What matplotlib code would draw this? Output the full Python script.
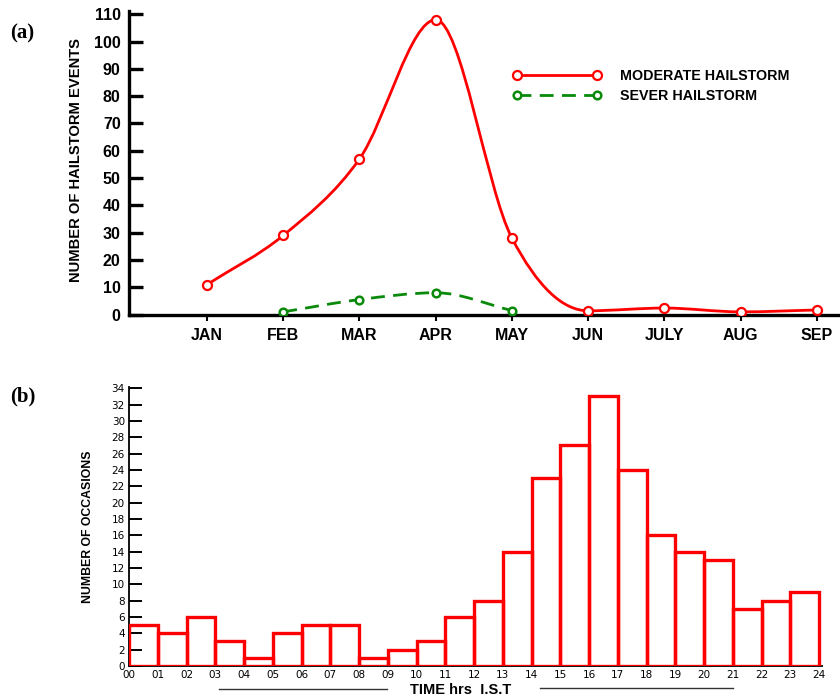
import numpy as np
import matplotlib
matplotlib.use("Agg")
import matplotlib.pyplot as plt
from matplotlib.path import Path
from matplotlib.patches import PathPatch
from matplotlib.lines import Line2D

# ---------------- data ----------------
months = ["JAN", "FEB", "MAR", "APR", "MAY", "JUN", "JULY", "AUG", "SEP"]
moderate = [11, 29, 57, 108, 28, 1.4, 2.4, 1, 1.7]
severe_months = ["FEB", "MAR", "APR", "MAY"]
severe = [1, 5.5, 8, 1.5]
y_ticks_a = [0, 10, 20, 30, 40, 50, 60, 70, 80, 90, 100, 110]

hours = list(range(24))
hour_labels = ["00", "01", "02", "03", "04", "05", "06", "07", "08", "09", "10", "11",
               "12", "13", "14", "15", "16", "17", "18", "19", "20", "21", "22", "23", "24"]
occasions = [5, 4, 6, 3, 1, 4, 5, 5, 1, 2, 3, 6, 8, 14, 23, 27, 33, 24, 16, 14, 13, 7, 8, 9]
y_ticks_b = list(range(0, 35, 2))

NARROW = ["Liberation Sans Narrow", "Liberation Sans", "DejaVu Sans"]
RED = "#ff0000"
GREEN = "#0a8a0a"

W, H = 840, 698
fig = plt.figure(figsize=(W / 100, H / 100), dpi=100)


def fx(px):
    return px / W


def fy(py):
    return 1 - py / H


def smooth_path(xs, ys):
    """Clamped Catmull-Rom style cubic curve through the points, as Bezier path."""
    xs = np.asarray(xs, float)
    ys = np.asarray(ys, float)
    n = len(xs)
    d = np.diff(ys) / np.diff(xs)
    m = np.zeros(n)
    m[0], m[-1] = d[0], d[-1]
    for k in range(1, n - 1):
        if d[k - 1] * d[k] > 0:
            m[k] = 0.5 * (d[k - 1] + d[k])
    verts = [(xs[0], ys[0])]
    codes = [Path.MOVETO]
    for i in range(n - 1):
        h = xs[i + 1] - xs[i]
        verts += [(xs[i] + h / 3, ys[i] + m[i] * h / 3),
                  (xs[i + 1] - h / 3, ys[i + 1] - m[i + 1] * h / 3),
                  (xs[i + 1], ys[i + 1])]
        codes += [Path.CURVE4] * 3
    return Path(verts, codes)


# ---------------- panel (a) ----------------
axa = fig.add_axes([fx(129), fy(314.6), fx(839) - fx(129), fy(11) - fy(314.6)])
xm = np.arange(len(months))
xs_sev = [months.index(m) for m in severe_months]

axa.add_patch(PathPatch(smooth_path(xm, moderate), fill=False, edgecolor=RED, lw=2.0,
                        zorder=3))
axa.add_patch(PathPatch(smooth_path(xs_sev, severe), fill=False, edgecolor=GREEN, lw=2.0,
                        linestyle=(0, (5, 3)), zorder=3))
axa.plot(xm, moderate, linestyle="none", marker="o", ms=6.5, mfc="white", mec=RED,
         mew=1.6, zorder=4)
axa.plot(xs_sev, severe, linestyle="none", marker="o", ms=5.5, mfc="white", mec=GREEN,
         mew=1.8, zorder=4)

axa.set_xlim(-1.023, 8.29)
axa.set_ylim(0, 111.2)
axa.set_xticks(xm)
axa.set_xticklabels(months)
axa.set_yticks(y_ticks_a)
for s in ["top", "right"]:
    axa.spines[s].set_visible(False)
for s in ["left", "bottom"]:
    axa.spines[s].set_linewidth(2.4)
axa.tick_params(axis="y", direction="in", length=10, width=2.4, pad=6)
axa.tick_params(axis="x", direction="out", length=4, width=1.5, pad=6)
for lab in axa.get_xticklabels() + axa.get_yticklabels():
    lab.set_family(NARROW)
    lab.set_fontweight("bold")
    lab.set_fontsize(11.5)
axa.set_ylabel("NUMBER OF HAILSTORM EVENTS", family=NARROW, fontweight="bold",
               fontsize=10.6)
axa.yaxis.set_label_coords(fx(83), fy(160.5), transform=fig.transFigure)

leg_handles = [
    Line2D([], [], color=RED, lw=2.0, marker="o", ms=6.5, mfc="white", mec=RED, mew=1.6),
    Line2D([], [], color=GREEN, lw=2.0, linestyle=(0, (5, 3)), marker="o", ms=5.5,
           mfc="white", mec=GREEN, mew=1.8),
]
axa.legend(leg_handles, ["MODERATE HAILSTORM", "SEVER HAILSTORM"], numpoints=2,
           loc="upper left", bbox_to_anchor=(fx(513), fy(69)),
           bbox_transform=fig.transFigure, frameon=False, borderpad=0, borderaxespad=0,
           handlelength=6.2, handletextpad=1.3, labelspacing=0.45,
           prop={"family": NARROW, "weight": "bold", "size": 10.3})

fig.text(fx(10), fy(33), "(a)", family=["Liberation Serif", "DejaVu Serif"],
         fontweight="bold", fontsize=15, va="center", ha="left")

# ---------------- panel (b) ----------------
axb = fig.add_axes([fx(129), fy(666), fx(822) - fx(129), fy(387) - fy(666)])
axb.bar(hours, occasions, width=1.0, align="edge", fill=False, edgecolor=RED, lw=2.4,
        zorder=3)
axb.set_xlim(0, 24.1)
axb.set_ylim(0, 34.15)
axb.set_xticks(range(25))
axb.set_xticklabels(hour_labels)
axb.set_yticks(y_ticks_b)
for s in ["top", "right"]:
    axb.spines[s].set_visible(False)
for s in ["left", "bottom"]:
    axb.spines[s].set_linewidth(1.3)
axb.tick_params(axis="y", direction="in", length=9, width=1.4, pad=3, labelsize=7.5)
axb.tick_params(axis="x", direction="out", length=0, pad=3, labelsize=7.5)
for lab in axb.get_xticklabels() + axb.get_yticklabels():
    lab.set_family(["DejaVu Sans"])
axb.set_ylabel("NUMBER OF OCCASIONS", family=NARROW, fontweight="bold", fontsize=8.8)
axb.yaxis.set_label_coords(fx(94), fy(526.5), transform=fig.transFigure)

fig.text(fx(461), fy(690), "TIME hrs  I.S.T", family=NARROW, fontweight="bold",
         fontsize=10.5, ha="center", va="center")
fig.add_artist(Line2D([fx(219), fx(387)], [fy(689), fy(689)], color="#333333", lw=1.0))
fig.add_artist(Line2D([fx(540), fx(733)], [fy(688), fy(688)], color="#333333", lw=1.0))

fig.text(fx(10), fy(396), "(b)", family=["Liberation Serif", "DejaVu Serif"],
         fontweight="bold", fontsize=15, va="center", ha="left")

fig.savefig("out.png", dpi=100, facecolor="white")
